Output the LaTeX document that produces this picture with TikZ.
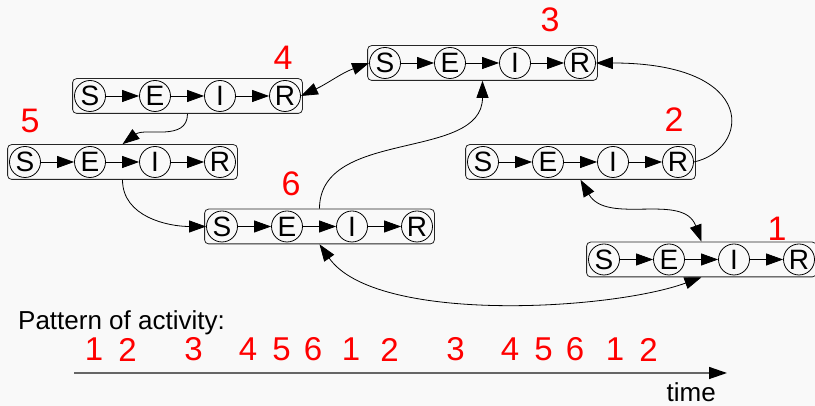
\documentclass[tikz,border=0pt]{standalone}
\usepackage{fontspec}
\setmainfont{Liberation Sans}
\usetikzlibrary{arrows.meta,fit,calc}
\definecolor{bgc}{RGB}{249,249,249}
\newcommand\seir[3]{%
  \node[st] (#1S) at (#2,#3) {S};
  \node[st] (#1E) at ($(#1S)+(65,0)$) {E};
  \node[st] (#1I) at ($(#1E)+(65,0)$) {I};
  \node[st] (#1R) at ($(#1I)+(65,0)$) {R};
  \node[seirframe,fit=(#1S)(#1R)] (#1) {};
  \draw[arr] (#1S) -- (#1E);
  \draw[arr] (#1E) -- (#1I);
  \draw[arr] (#1I) -- (#1R);
  \path (#1E) -- (#1I) coordinate[midway] (#1m);
  \coordinate (#1t) at (#1m |- #1.north);
  \coordinate (#1b) at (#1m |- #1.south);
}
\begin{document}
\begin{tikzpicture}[x=1pt,y=1pt,
  st/.style={circle,draw,line width=0.8pt,minimum size=31pt,inner sep=0pt,
    font=\fontsize{28}{28}\selectfont},
  seirframe/.style={draw=black!85,rounded corners=4pt,inner sep=1.5pt,line width=0.8pt},
  arr/.style={line width=0.8pt,-{Triangle[length=17pt,width=12pt]}},
  arrtwo/.style={line width=0.8pt,{Triangle[length=17pt,width=12pt]}-{Triangle[length=17pt,width=12pt]}},
  lbl/.style={text=red,inner sep=0pt,font=\fontsize{34}{34}\selectfont},
  pat/.style={text=red,inner sep=0pt,font=\fontsize{33}{33}\selectfont},
  txt/.style={inner sep=0pt,font=\fontsize{26}{26}\selectfont},
  axis/.style={draw=black!60,line width=1.4pt,-{Triangle[length=18pt,width=12pt,fill=black,color=black]}}
]
\fill[bgc] (0,0) rectangle (815,406);
\useasboundingbox (0,0) rectangle (815,406);

\seir{bA}{604}{146.5}
\seir{bB}{483}{244}
\seir{bC}{385}{343}
\seir{bD}{90}{310}
\seir{bE}{25}{244}
\seir{bF}{222}{179.5}

\node[lbl] (l1) at (777,177.5) {1};
\node[lbl] (l2) at (674,286.5) {2};
\node[lbl] (l3) at (550,386) {3};
\node[lbl] (l4) at (283,348) {4};
\node[lbl] (l5) at (30,285) {5};
\node[lbl] (l6) at (291,222.5) {6};

\draw[arrtwo] (bDR.east) to[out=25,in=200] (bCS.west);
\draw[arr] (bDb) to[out=-90,in=37] (bEt);
\draw[arr] (bEb) to[out=-90,in=180] (bFS.west);
\draw[arr] (bFt) to[out=90,in=-90] (bCb);
\draw[arr] (bBR.east) .. controls +(55.5,12) and +(164.5,0) .. (bCR.east);
\draw[arrtwo] (bBb) to[out=-60,in=110] (bAt);
\draw[arrtwo] (bFb) to[out=-55,in=-160,looseness=0.65] (bAb);

\node[txt,anchor=base west] (pt) at (18,76) {Pattern of activity:};
\foreach \x/\d [count=\i] in {94/1,127.5/2,193.5/3,248/4,281.5/5,313/6,351/1,389.5/2,455.5/3,510/4,543.5/5,575/6,615/1,648.5/2}
  \node[pat] (p\i) at (\x,56.5) {\d};
\coordinate (ta) at (74,33);
\coordinate (tb) at (727,33);
\draw[axis] (ta) -- (tb);
\node[txt,anchor=base east] (tm) at (716,4.5) {time};
\end{tikzpicture}
\end{document}
